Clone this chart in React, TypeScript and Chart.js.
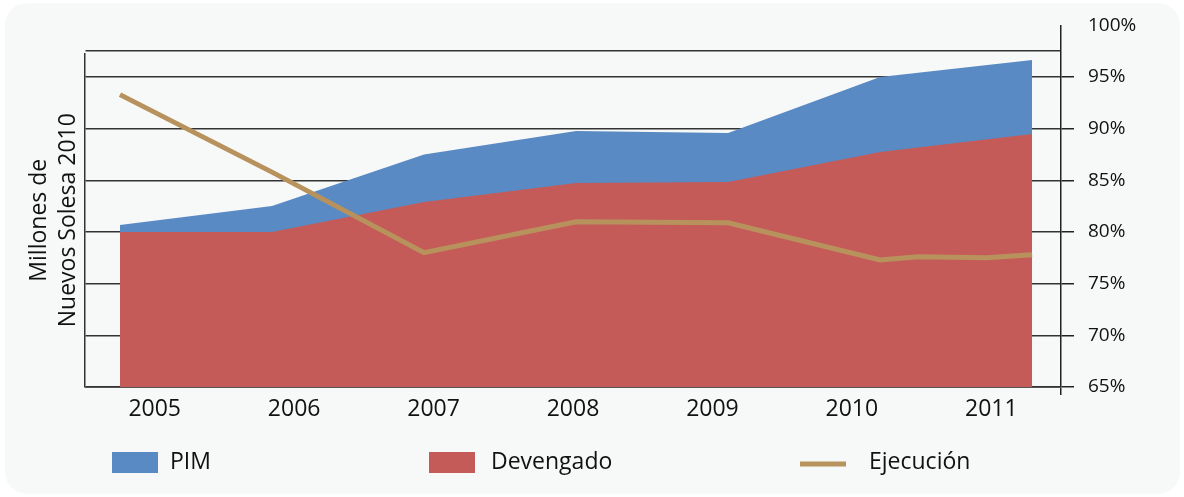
import React, { useEffect, useRef } from 'react';
import { Chart, registerables } from 'chart.js';

Chart.register(...registerables);

// ---- data ----
const YEARS = ['2005', '2006', '2007', '2008', '2009', '2010', '2011'];
const AREA_X = [2005, 2006, 2007, 2008, 2009, 2010, 2011];
const PIM = [1568, 1752, 2250, 2477, 2458, 3000, 3164];
const DEVENGADO = [1500, 1500, 1790, 1974, 1984, 2274, 2448];
const EJEC_X = [2005, 2006, 2007, 2008, 2009, 2010, 2010.25, 2010.7, 2011];
const EJECUCION = [93.3, 85.8, 78.0, 81.0, 80.9, 77.3, 77.6, 77.5, 77.8];
const LEFT_TICKS = [0, 500, 1000, 1500, 2000, 2500, 3000, 3250];
const Y_TITLE = ['Millones de', 'Nuevos Solesa 2010'];

// ---- styles ----
const FONT = '"Open Sans", sans-serif';
const BLUE = '#5A8AC3';
const RED = '#C55B58';
const TAN = '#B8925C';
const TEXT = '#111111';
const X_MIN = 2004.77;
const X_MAX = 2011.19;
const LEGEND_BOX_X = [112, 429, 800];
const LEGEND_TEXT_X = [170, 491, 869];

const fixedLegend = {
  id: 'fixedLegend',
  afterDraw(chart: any) {
    const { ctx } = chart;
    const boxW = 46;
    const boxH = 21;
    const cy = 462.5;
    ctx.save();
    ctx.font = `23px ${FONT}`;
    ctx.textBaseline = 'middle';
    ctx.textAlign = 'left';
    chart.data.datasets.forEach((ds: any, i: number) => {
      const x = LEGEND_BOX_X[i];
      if (ds.fill === false) {
        ctx.strokeStyle = ds.borderColor;
        ctx.lineWidth = ds.borderWidth;
        ctx.beginPath();
        ctx.moveTo(x, cy + 1.5);
        ctx.lineTo(x + boxW, cy + 1.5);
        ctx.stroke();
      } else {
        ctx.fillStyle = ds.backgroundColor;
        ctx.fillRect(x, cy - boxH / 2, boxW, boxH);
      }
      ctx.fillStyle = TEXT;
      ctx.fillText(ds.label, LEGEND_TEXT_X[i], cy);
    });
    ctx.restore();
  },
};

const titleShift = {
  id: 'titleShift',
  afterLayout(chart: any) {
    const s = chart.scales.y;
    if (s) s.top += 28;
  },
};

export default function App() {
  const ref = useRef<HTMLCanvasElement>(null);

  useEffect(() => {
    const canvas = ref.current;
    if (!canvas) return;
    const chart = new Chart(canvas, {
      type: 'line',
      data: {
        datasets: [
          {
            label: 'PIM',
            data: AREA_X.map((x, i) => ({ x, y: PIM[i] })),
            xAxisID: 'x',
            yAxisID: 'y',
            backgroundColor: BLUE,
            borderColor: 'rgba(0,0,0,0)',
            borderWidth: 0,
            pointRadius: 0,
            fill: 'origin',
            tension: 0,
            order: 3,
          },
          {
            label: 'Devengado',
            data: AREA_X.map((x, i) => ({ x, y: DEVENGADO[i] })),
            xAxisID: 'x',
            yAxisID: 'y',
            backgroundColor: RED,
            borderColor: 'rgba(0,0,0,0)',
            borderWidth: 0,
            pointRadius: 0,
            fill: 'origin',
            tension: 0,
            order: 2,
          },
          {
            label: 'Ejecución',
            data: EJEC_X.map((x, i) => ({ x, y: EJECUCION[i] })),
            xAxisID: 'x',
            yAxisID: 'y1',
            backgroundColor: TAN,
            borderColor: TAN,
            borderWidth: 5,
            pointRadius: 0,
            fill: false,
            tension: 0,
            order: 1,
          },
        ],
      } as any,
      options: {
        animation: false,
        responsive: false,
        layout: { padding: { top: 25, left: 0, right: 0, bottom: 0 } },
        plugins: {
          legend: { display: false },
          tooltip: { enabled: false },
          title: { display: false },
        },
        scales: {
          x: { type: 'linear', display: false, min: X_MIN, max: X_MAX },
          xYears: {
            type: 'category',
            labels: YEARS,
            position: 'bottom',
            offset: true,
            grid: {
              offset: true,
              drawOnChartArea: false,
              drawTicks: true,
              tickLength: 8,
              lineWidth: 1.5,
              color: (c: any) => (c.tick ? 'rgba(0,0,0,0)' : '#222'),
            },
            border: { display: true, color: '#555', width: 1, z: 1 },
            ticks: {
              color: TEXT,
              font: { family: FONT, size: 23 },
              padding: 1,
              maxRotation: 0,
              autoSkip: false,
            },
            afterFit: (s: any) => {
              s.height = 110;
            },
          },
          y: {
            type: 'linear',
            position: 'left',
            min: 0,
            max: 3500,
            afterBuildTicks: (s: any) => {
              s.ticks = LEFT_TICKS.map((v) => ({ value: v }));
            },
            ticks: { display: false },
            grid: { color: '#333', lineWidth: 1.5, drawTicks: false },
            border: { display: true, color: '#333', width: 1.5 },
            title: {
              display: true,
              text: Y_TITLE,
              color: TEXT,
              font: { family: FONT, size: 23, lineHeight: 1.25 },
              padding: { top: 25, bottom: 0 },
            },
            afterFit: (s: any) => {
              s.width = 85;
            },
          },
          y1: {
            type: 'linear',
            position: 'right',
            min: 65,
            max: 100,
            ticks: {
              stepSize: 5,
              callback: (v: any) => v + '%',
              color: TEXT,
              font: { family: FONT, size: 19 },
              padding: 14,
            },
            grid: {
              drawOnChartArea: false,
              drawTicks: true,
              tickLength: 13,
              lineWidth: 1.5,
              color: (c: any) => (c.tick && c.tick.value === 100 ? 'rgba(0,0,0,0)' : '#222'),
            },
            border: { display: true, color: '#222', width: 1.5 },
            afterFit: (s: any) => {
              s.width = 123;
            },
          },
        },
      } as any,
      plugins: [fixedLegend, titleShift],
    });
    return () => chart.destroy();
  }, []);

  return (
    <div style={{ position: 'absolute', left: 0, top: 0, width: 1184, height: 497, background: '#ffffff' }}>
      <div
        style={{
          position: 'absolute',
          left: 5,
          top: 3,
          width: 1175,
          height: 491,
          borderRadius: 22,
          background: '#F7F9F9',
        }}
      />
      <canvas ref={ref} width={1184} height={497} style={{ position: 'absolute', left: 0, top: 0 }} />
    </div>
  );
}
